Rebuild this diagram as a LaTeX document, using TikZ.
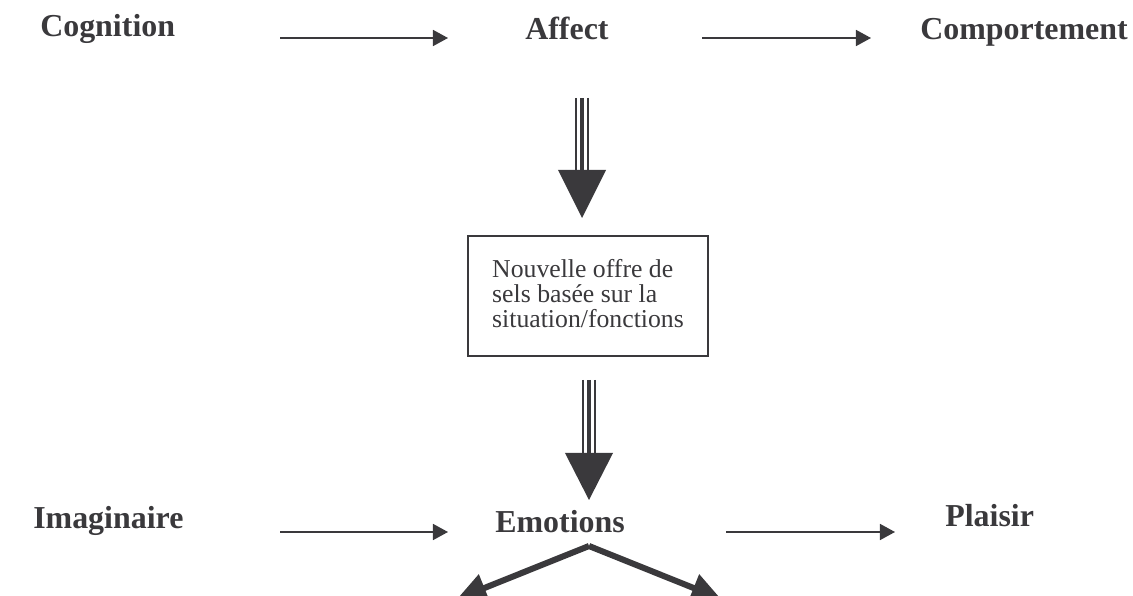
\documentclass[tikz,border=0pt]{standalone}
\usepackage{fontspec}
\setmainfont{Liberation Serif}
\usetikzlibrary{arrows.meta}
\definecolor{ink}{HTML}{3A393C}
\begin{document}
\begin{tikzpicture}
 [x=0.025cm, y=-0.025cm,
 word/.style={anchor=base west, inner sep=0pt, text=ink, font=\bfseries\fontsize{22.7}{27}\selectfont},
 thinarrow/.style={draw=ink, line width=1.1pt, -{Triangle[length=10.7pt, width=11.4pt]}},
 shaftthin/.style={draw=ink, line width=1.8pt},
 shaftthick/.style={draw=ink, line width=3.2pt},
 bighead/.style={fill=ink},
 offrebox/.style={rectangle, draw=ink, line width=1.1pt, minimum width=6cm, minimum height=3cm, inner sep=0pt, text=ink, text height=14pt, text depth=41pt, font=\fontsize{18.3}{17.4}\selectfont},
 fork/.style={draw=ink, line width=4.3pt, -{Triangle[length=21pt, width=20pt]}}
 ]
 \useasboundingbox (0,0) rectangle (1133,596);
 \clip (0,0) rectangle (1133,596);
 \node at (40,37) [word] (cognition) {Cognition};
 \node at (525,40) [word] (affect) {Affect};
 \node at (920,40) [word] (comport) {Comportement};
 \node at (33,529) [word] (imaginaire) {Imaginaire};
 \node at (495,533) [word] (emotions) {Emotions};
 \node at (945,527) [word] (plaisir) {Plaisir};
 \node at (588,296) [offrebox] (offre) {\begin{tabular}[t]{@{}l@{}}Nouvelle offre de\\ sels basée sur la\\ situation/fonctions\end{tabular}};
 \coordinate (cogA) at (280,38);  \coordinate (cogB) at (448,38);
 \coordinate (affA) at (702,38);  \coordinate (affB) at (871,38);
 \coordinate (imaA) at (280,532); \coordinate (imaB) at (448,532);
 \coordinate (emoA) at (726,532); \coordinate (emoB) at (895,532);
 \draw[thinarrow] (cogA) -- (cogB);
 \draw[thinarrow] (affA) -- (affB);
 \draw[thinarrow] (imaA) -- (imaB);
 \draw[thinarrow] (emoA) -- (emoB);
 \coordinate (topA) at (582,98);  \coordinate (baseA) at (582,172); \coordinate (tipA) at (582,218);
 \coordinate (topB) at (589,380); \coordinate (baseB) at (589,455); \coordinate (tipB) at (589,500);
 \foreach \t in {A,B}{
  \draw[shaftthin] ([xshift=-0.15cm]top\t) -- ([xshift=-0.15cm]base\t);
  \draw[shaftthick] (top\t) -- (base\t);
  \draw[shaftthin] ([xshift=0.15cm]top\t) -- ([xshift=0.15cm]base\t);
  \fill[bighead] ([xshift=-0.6cm,yshift=0.05cm]base\t) -- ([xshift=0.6cm,yshift=0.05cm]base\t) -- (tip\t) -- cycle;
 }
 \coordinate (apex) at (589,546);
 \coordinate (forkL) at (457,599);
 \coordinate (forkR) at (721,599);
 \draw[fork] (apex) -- (forkL);
 \draw[fork] (apex) -- (forkR);
\end{tikzpicture}
\end{document}
